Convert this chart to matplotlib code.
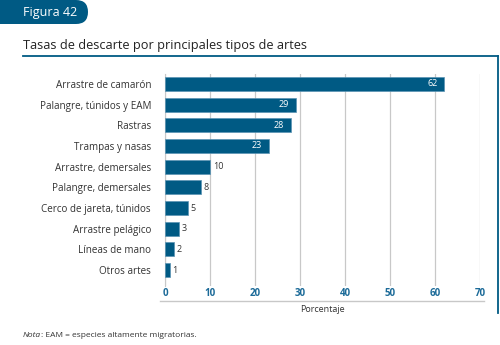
import matplotlib.pyplot as plt
from matplotlib.patches import FancyBboxPatch

plt.rcParams['font.family'] = ['Open Sans', 'DejaVu Sans']

categorias = ['Arrastre de camarón', 'Palangre, túnidos y EAM', 'Rastras',
              'Trampas y nasas', 'Arrastre, demersales', 'Palangre, demersales',
              'Cerco de jareta, túnidos', 'Arrastre pelágico', 'Líneas de mano',
              'Otros artes']
valores = [62, 29, 28, 23, 10, 8, 5, 3, 2, 1]
ticks_x = [0, 10, 20, 30, 40, 50, 60, 70]

azul = '#005a84'
azul_txt = '#1b6a98'
gris = '#c8c8c8'
texto = '#333333'

fig = plt.figure(figsize=(5, 3.45), dpi=100)

# capa de fondo en pixeles para los adornos
fondo = fig.add_axes([0, 0, 1, 1])
fondo.set_xlim(0, 500)
fondo.set_ylim(345, 0)
fondo.axis('off')

fondo.add_patch(FancyBboxPatch((-30, 0), 118, 24, boxstyle='round,pad=0,rounding_size=12',
                               facecolor=azul, edgecolor='none'))
fondo.text(23, 12.5, 'Figura 42', color='white', fontsize=9, va='center', ha='left')
fondo.text(23, 45, 'Tasas de descarte por principales tipos de artes', color='#222222',
           fontsize=9.2, va='center', ha='left')
fondo.plot([23, 498], [55.5, 55.5], color=azul, lw=1.3)
fondo.plot([498, 498], [55.5, 313], color=azul, lw=1.3)
fondo.plot([160, 484], [301, 301], color=gris, lw=1)
fondo.text(322, 310, 'Porcentaje', color=texto, fontsize=6.5, ha='center', va='center')
nota = fondo.text(23, 337, 'Nota', color=texto, fontsize=6, style='italic',
                  ha='left', va='baseline')
fondo.annotate(': EAM = especies altamente migratorias.', xy=(1, 0), xycoords=nota,
               va='bottom', ha='left', color=texto, fontsize=6)

ax = fig.add_axes([165 / 500, 59 / 345, 315 / 500, 212 / 345])
pos = list(range(len(categorias)))
ax.barh(pos, valores, height=0.68, color=azul, edgecolor='#5b93b3', linewidth=0.5, zorder=3)
ax.set_xlim(0, 70)
ax.set_ylim(9.77, -0.48)
ax.set_yticks(pos)
ax.set_yticklabels(categorias, fontsize=7.1, color=texto)
ax.set_xticks(ticks_x)
ax.set_xticklabels([str(t) for t in ticks_x], fontsize=7, color=azul_txt, fontweight='bold')
ax.tick_params(length=0)
ax.tick_params(axis='x', pad=1.5)
ax.tick_params(axis='y', pad=10)
ax.grid(axis='x', color=gris, lw=0.9, zorder=0)
for s in ['top', 'right', 'bottom']:
    ax.spines[s].set_visible(False)
ax.spines['left'].set_color(gris)

for p, v in zip(pos, valores):
    if v >= 20:
        ax.text(v - 1.5, p, str(v), color='white', fontsize=6.5, ha='right', va='center', zorder=4)
    else:
        ax.text(v + 0.6, p, str(v), color=texto, fontsize=6.5, ha='left', va='center', zorder=4)

fig.savefig('out.png', dpi=100)
